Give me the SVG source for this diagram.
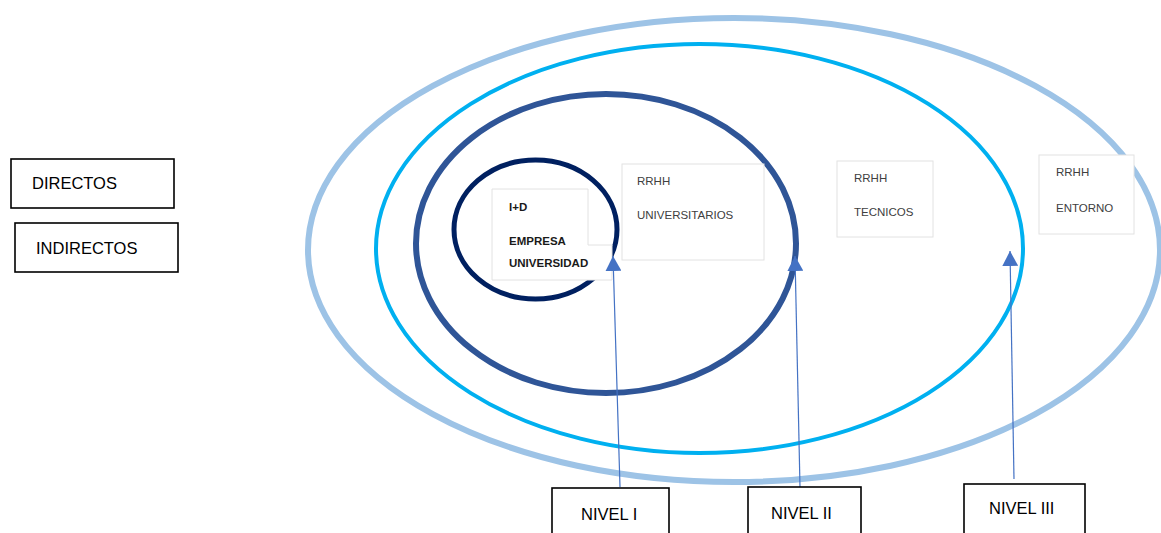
<svg xmlns="http://www.w3.org/2000/svg" width="1161" height="533" viewBox="0 0 1161 533">
  <style>
    .ring { fill: none; }
    .legend rect, .level rect { fill: #ffffff; stroke: #000000; stroke-width: 1.6; }
    .legend text, .level text { font-family: "Liberation Sans", Arial, sans-serif; font-size: 16.5px; fill: #000000; }
    .card rect, .card path { fill: #ffffff; stroke: #e2e2e2; stroke-width: 1; }
    .card text { font-family: "Liberation Sans", Arial, sans-serif; font-size: 11.5px; fill: #404040; }
    .card text.b { font-weight: bold; font-size: 11.5px; fill: #1a1a1a; }
    .conn line { stroke: #4472c4; stroke-width: 1.2; }
  </style>
  <defs>
    <!-- triangular head, tip on the line end -->
    <marker id="tri" viewBox="0 0 15 16" refX="15" refY="8" markerWidth="15" markerHeight="16" markerUnits="userSpaceOnUse" orient="auto">
      <path d="M0,0 L15,8 L0,16 Z" fill="#4472c4"/>
    </marker>
  </defs>

  <rect width="1161" height="533" fill="#ffffff"/>

  <!-- concentric levels -->
  <g id="rings">
    <ellipse class="ring" cx="734" cy="250" rx="426" ry="232" stroke="#9dc3e6" stroke-width="6"/>
    <ellipse class="ring" cx="699.5" cy="248.5" rx="323.5" ry="204.5" stroke="#00b0f0" stroke-width="4"/>
    <ellipse class="ring" cx="606" cy="243.5" rx="190" ry="149.5" stroke="#2f5597" stroke-width="6"/>
    <ellipse class="ring" cx="535.5" cy="229.5" rx="81.5" ry="69.5" stroke="#002060" stroke-width="5"/>
  </g>

  <!-- legend -->
  <g id="directos" class="legend">
    <rect x="11" y="159" width="163" height="49"/>
    <text x="32" y="189">DIRECTOS</text>
  </g>
  <g id="indirectos" class="legend">
    <rect x="15" y="223" width="163" height="49"/>
    <text x="36" y="254">INDIRECTOS</text>
  </g>

  <!-- labels inside the rings -->
  <g id="id-empresa" class="card">
    <path d="M492,189 H588 V245 H612 V280 H492 Z"/>
    <text class="b" x="509" y="211">I+D</text>
    <text class="b" x="509" y="245">EMPRESA</text>
    <text class="b" x="509" y="267">UNIVERSIDAD</text>
  </g>
  <g id="rrhh-universitarios" class="card">
    <rect x="622" y="164" width="142" height="96"/>
    <text x="637" y="185">RRHH</text>
    <text x="637" y="219">UNIVERSITARIOS</text>
  </g>
  <g id="rrhh-tecnicos" class="card">
    <rect x="837" y="161" width="96" height="76"/>
    <text x="854" y="182">RRHH</text>
    <text x="854" y="216">TECNICOS</text>
  </g>
  <g id="rrhh-entorno" class="card">
    <rect x="1039" y="155" width="95" height="79"/>
    <text x="1056" y="176">RRHH</text>
    <text x="1056" y="212">ENTORNO</text>
  </g>

  <!-- pointers from each level box -->
  <g id="connectors" class="conn">
    <line x1="620" y1="487" x2="613" y2="256" marker-end="url(#tri)"/>
    <line x1="800" y1="487" x2="795" y2="256" marker-end="url(#tri)"/>
    <line x1="1014" y1="479" x2="1010" y2="251" marker-end="url(#tri)"/>
  </g>

  <!-- level boxes -->
  <g id="nivel-1" class="level">
    <rect x="552" y="488" width="117" height="50"/>
    <text x="581" y="520">NIVEL I</text>
  </g>
  <g id="nivel-2" class="level">
    <rect x="748" y="487" width="113" height="50"/>
    <text x="771" y="519">NIVEL II</text>
  </g>
  <g id="nivel-3" class="level">
    <rect x="964" y="484" width="121" height="54"/>
    <text x="989" y="514">NIVEL III</text>
  </g>
</svg>
